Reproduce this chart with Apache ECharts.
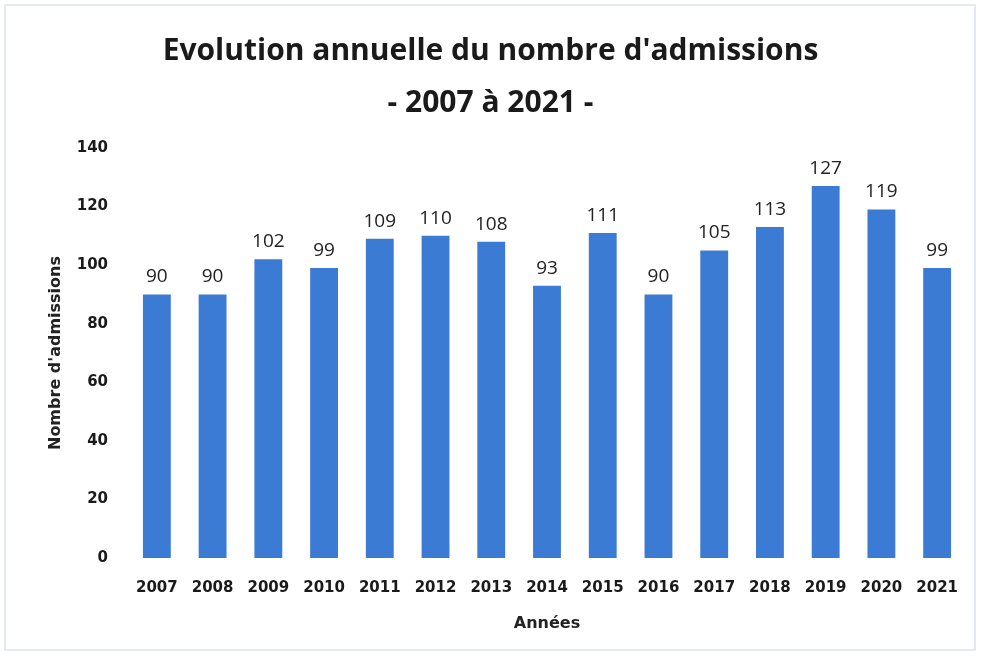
<!DOCTYPE html>
<html><head><meta charset="utf-8">
<script src="https://cdn.jsdelivr.net/npm/echarts@6/dist/echarts.min.js"></script>
<style>html,body{margin:0;padding:0;background:#fff}#c{width:981px;height:658px}</style>
</head><body><div id="c"></div>
<script>
const years = ['2007','2008','2009','2010','2011','2012','2013','2014','2015','2016','2017','2018','2019','2020','2021'];
const admissions = [90,90,102,99,109,110,108,93,111,90,105,113,127,119,99];
const titleLines = ["Evolution annuelle du nombre d'admissions", "- 2007 à 2021 -"];
const yAxisName = "Nombre d'admissions";
const xAxisName = "Années";

const chart = echarts.init(document.getElementById('c'));
chart.setOption({
  animation: false,
  graphic: [{type:'rect', shape:{x:5,y:5,width:970,height:645}, style:{fill:'none', stroke:'#dde3ee', lineWidth:1.5}, silent:true}],
  title: {
    text: titleLines.join('\n'),
    left: 'center', top: 20,
    textStyle: {fontFamily:'Open Sans', fontWeight:'bold', fontSize:30, color:'#1a1a1a', lineHeight:52}
  },
  grid: {left:129, right:16, top:148, bottom:100},
  xAxis: {
    type:'category', data: years,
    name: xAxisName, nameLocation:'middle', nameGap:58,
    nameTextStyle:{fontFamily:'DejaVu Sans', fontWeight:'bold', fontSize:16, color:'#222'},
    axisLine:{show:false}, axisTick:{show:false},
    axisLabel:{fontFamily:'DejaVu Sans', fontWeight:'bold', fontSize:15, color:'#1a1a1a', margin:23}
  },
  yAxis: {
    type:'value', min:0, max:140, interval:20,
    name: yAxisName, nameLocation:'middle', nameGap:65, nameRotate:90,
    nameTextStyle:{fontFamily:'DejaVu Sans', fontWeight:'bold', fontSize:16, color:'#222'},
    axisLine:{show:false}, axisTick:{show:false}, splitLine:{show:false},
    axisLabel:{fontFamily:'DejaVu Sans', fontWeight:'bold', fontSize:15, color:'#1a1a1a', margin:21}
  },
  series: [{
    type:'bar', data: admissions, barWidth:'50%',
    itemStyle:{color:'#3c7bd4'},
    label:{show:true, position:'top', distance:8, fontFamily:'Open Sans', fontSize:19, color:'#222'}
  }]
});
</script></body></html>
